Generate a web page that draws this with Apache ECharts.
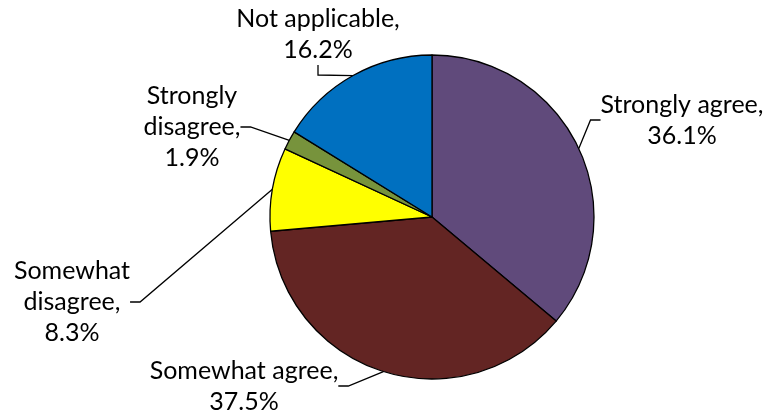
<!DOCTYPE html>
<html><head><meta charset="utf-8">
<script src="https://cdn.jsdelivr.net/npm/echarts@6/dist/echarts.min.js"></script>
<style>html,body{margin:0;padding:0;background:#fff}#c{width:775px;height:416px}</style>
</head><body><div id="c"></div>
<script>
const categories = ['Strongly agree', 'Somewhat agree', 'Somewhat disagree', 'Strongly disagree', 'Not applicable'];
const values = [36.1, 37.5, 8.3, 1.9, 16.2];
const colors = ['#604A7B', '#632523', '#FFFF00', '#77933C', '#0070C0'];
const labelText = ['Strongly agree,\n36.1%', 'Somewhat agree,\n37.5%', 'Somewhat\ndisagree,\n8.3%', 'Strongly\ndisagree,\n1.9%', 'Not applicable,\n16.2%'];
const labelPos = [[682, 120], [244, 386], [72, 302], [192, 127], [318, 34]];

const chart = echarts.init(document.getElementById('c'));
chart.setOption({
  animation: false,
  series: [{
    type: 'pie',
    center: [432, 217],
    radius: 162,
    startAngle: 90,
    clockwise: true,
    data: categories.map((n, i) => ({ name: n, value: values[i], itemStyle: { color: colors[i] } })),
    itemStyle: { borderColor: '#000', borderWidth: 1.3 },
    label: {
      show: true,
      formatter: p => labelText[p.dataIndex],
      fontFamily: 'Lato',
      fontSize: 25,
      lineHeight: 31,
      color: '#000',
      align: 'center',
      overflow: 'none'
    },
    labelLine: { show: true, length: 10, length2: 10, lineStyle: { color: '#000', width: 1.3 } },
    labelLayout: p => ({ x: labelPos[p.dataIndex][0], y: labelPos[p.dataIndex][1], align: 'center', verticalAlign: 'middle' })
  }]
});
</script></body></html>
